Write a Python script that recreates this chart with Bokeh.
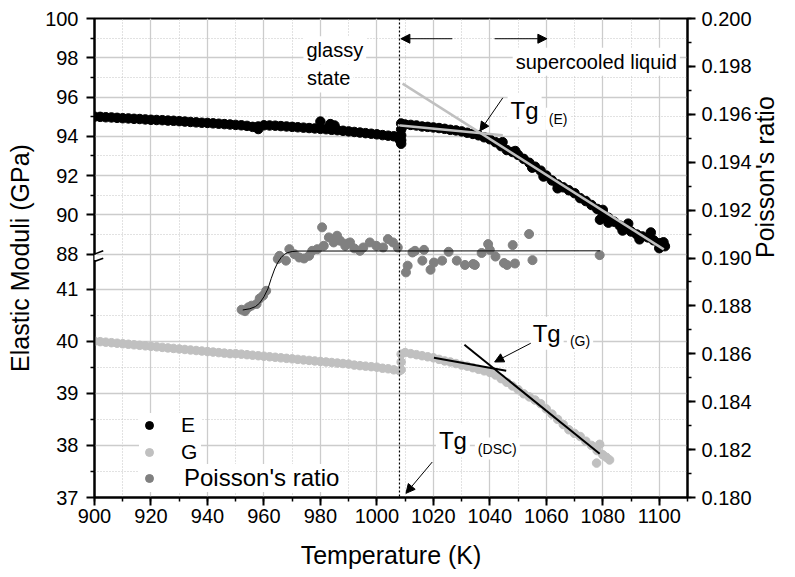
import math
from bokeh.plotting import figure
from bokeh.models import (Range1d, LinearAxis, FixedTicker, SingleIntervalTicker,
                          CustomJSTickFormatter, NumeralTickFormatter, Span, Label,
                          Arrow, NormalHead, Legend, LegendItem)
from bokeh.embed import file_html
from bokeh.resources import INLINE

FONT = "Liberation Sans"

# ---------------- data ----------------
# Young's modulus E (GPa), glassy region
E_T_GLASS = [900, 902, 904, 906, 908, 910, 912, 914, 916, 918, 920, 922, 924, 926, 928, 930,
             932, 934, 936, 938, 940, 942, 944, 946, 948, 950, 952, 954, 956, 958, 960, 962,
             964, 966, 968, 970, 972, 974, 976, 978, 980, 982, 984, 986, 988, 990, 992, 994,
             996, 998, 1000, 1002, 1004, 1006, 1008, 958, 980, 983.5, 985, 1008, 1008.3]
E_V_GLASS = [95.00, 94.99, 94.97, 94.96, 94.94, 94.92, 94.91, 94.89, 94.88, 94.86, 94.84, 94.83,
             94.82, 94.80, 94.79, 94.77, 94.75, 94.73, 94.71, 94.69, 94.68, 94.66, 94.64, 94.62,
             94.60, 94.58, 94.56, 94.53, 94.48, 94.50, 94.56, 94.55, 94.54, 94.52, 94.50, 94.48,
             94.46, 94.44, 94.42, 94.40, 94.38, 94.36, 94.33, 94.31, 94.28, 94.25, 94.22, 94.19,
             94.16, 94.13, 94.10, 94.06, 94.03, 94.00, 93.93, 94.37, 94.75, 94.62, 94.55, 93.85, 93.78]
# E, supercooled liquid region
E_T_SCL = [1008.6, 1008.6, 1008.6, 1008.6, 1008.6, 1010, 1012, 1014, 1016, 1018, 1020, 1022,
           1024, 1026, 1028, 1030, 1032, 1034, 1036, 1038, 1040, 1042, 1044, 1046, 1048, 1050,
           1052, 1054, 1056, 1058, 1060, 1062, 1064, 1066, 1068, 1070, 1072, 1074, 1076, 1078,
           1080, 1082, 1084, 1086, 1088, 1090, 1092, 1094, 1096, 1098, 1100, 1102,
           1079, 1080, 1082, 1087, 1089, 1093, 1097, 1100, 1101.5, 1059, 1064, 1044.5, 1049, 1055]
E_V_SCL = [94.65, 94.35, 94.05, 93.80, 93.62, 94.60, 94.58, 94.55, 94.50, 94.48, 94.45, 94.42,
           94.38, 94.33, 94.30, 94.25, 94.18, 94.12, 94.05, 93.95, 93.85, 93.70, 93.50, 93.30,
           93.20, 93.05, 92.85, 92.65, 92.45, 92.25, 92.00, 91.75, 91.55, 91.40, 91.25, 91.10,
           90.85, 90.70, 90.50, 90.30, 90.05, 89.85, 89.65, 89.45, 89.30, 89.15, 89.00, 88.90,
           88.85, 88.70, 88.55, 88.40,
           89.75, 90.25, 89.60, 89.20, 89.55, 88.75, 89.10, 88.30, 88.60, 91.95, 91.35, 93.70, 93.25, 92.40]

# Shear modulus G (GPa)
G_T_GLASS = [900, 902, 904, 906, 908, 910, 912, 914, 916, 918, 920, 922, 924, 926, 928, 930,
             932, 934, 936, 938, 940, 942, 944, 946, 948, 950, 952, 954, 956, 958, 960, 962,
             964, 966, 968, 970, 972, 974, 976, 978, 980, 982, 984, 986, 988, 990, 992, 994,
             996, 998, 1000, 1002, 1004, 1006, 1008]
G_V_GLASS = [40.00, 39.99, 39.98, 39.97, 39.96, 39.95, 39.94, 39.93, 39.92, 39.91, 39.90, 39.89,
             39.88, 39.87, 39.86, 39.85, 39.84, 39.83, 39.82, 39.81, 39.80, 39.79, 39.78, 39.77,
             39.76, 39.76, 39.75, 39.74, 39.73, 39.72, 39.71, 39.70, 39.69, 39.68, 39.67, 39.66,
             39.65, 39.64, 39.63, 39.62, 39.61, 39.60, 39.59, 39.58, 39.57, 39.56, 39.54, 39.53,
             39.52, 39.51, 39.50, 39.48, 39.47, 39.45, 39.43]
G_T_SCL = [1008.6, 1008.6, 1008.6, 1010, 1012, 1014, 1016, 1018, 1020, 1022, 1024, 1026, 1028,
           1030, 1032, 1034, 1036, 1038, 1040, 1042, 1044, 1046, 1048, 1050, 1052, 1054, 1056,
           1058, 1060, 1062, 1064, 1066, 1068, 1070, 1072, 1074, 1076, 1078, 1078.9, 1077.8,
           1080, 1081.3, 1082.4]
G_V_SCL = [39.45, 39.60, 39.75, 39.78, 39.76, 39.74, 39.72, 39.70, 39.68, 39.65, 39.62, 39.60,
           39.57, 39.54, 39.52, 39.49, 39.46, 39.43, 39.40, 39.35, 39.28, 39.21, 39.14, 39.07,
           38.99, 38.93, 38.87, 38.80, 38.70, 38.60, 38.50, 38.40, 38.30, 38.23, 38.17, 38.08,
           38.00, 37.90, 38.02, 37.66, 37.82, 37.77, 37.72]

# Poisson's ratio
NU_T = [952.1, 953.3, 954.5, 955.6, 957.4, 958.5, 959.7, 960.8, 964.9, 965.5, 967.8, 969.0,
        970.8, 972.5, 974.2, 976.0, 977.1, 978.9, 980.6, 981.2, 983.0, 984.7, 985.9, 987.0,
        988.8, 989.4, 990.5, 992.0, 994.0, 995.2, 997.5, 999.8, 1002.2, 1003.9, 1005.7, 1007.4,
        1010.3, 1010.9, 1012.6, 1013.5, 1016.1, 1016.7, 1019.0, 1020.2, 1023.1, 1025.4, 1028.3,
        1031.2, 1034.1, 1034.7, 1037.1, 1039.4, 1040.0, 1042.0, 1045.0, 1046.1, 1048.1, 1048.9,
        1053.9, 1055.1, 1078.9]
NU_V = [0.18784, 0.18778, 0.18794, 0.18801, 0.18808, 0.18831, 0.18843, 0.18863, 0.18996, 0.19009,
        0.18989, 0.19037, 0.19016, 0.19002, 0.18998, 0.19009, 0.19030, 0.19037, 0.19128, 0.19051,
        0.19086, 0.19065, 0.19093, 0.19072, 0.19051, 0.19060, 0.19065, 0.19040, 0.19030, 0.19044,
        0.19065, 0.19051, 0.19044, 0.19079, 0.19065, 0.19044,
        0.18940, 0.18968, 0.19023, 0.19030, 0.18989, 0.19034, 0.18951, 0.18981, 0.18989, 0.19026,
        0.18989, 0.18971, 0.18975, 0.18971, 0.19021, 0.19058, 0.19034, 0.19006, 0.18979, 0.18971,
        0.19054, 0.18977, 0.19100, 0.18991, 0.19012]
NU_FIT_T = [952.5, 955, 957, 958.5, 960, 961.4, 962.6, 963.8, 964.9, 966.1, 967.2, 968.5, 970, 972, 1079]
NU_FIT_V = [0.18783, 0.18788, 0.18797, 0.18812, 0.18838, 0.18871, 0.18915, 0.18954, 0.18981,
            0.19002, 0.19015, 0.19023, 0.19027, 0.19029, 0.19030]

# tangent lines used to find Tg
E_FIT_STEEP_T = [1009.1, 1101.6]
E_FIT_STEEP_V = [96.68, 88.24]
E_FIT_FLAT_T = [1007.4, 1044.6]
E_FIT_FLAT_V = [94.56, 94.05]
G_FIT_FLAT_T = [1020.2, 1045.8]
G_FIT_FLAT_V = [39.68, 39.43]
G_FIT_STEEP_T = [1031.0, 1078.9]
G_FIT_STEEP_V = [39.93, 37.84]

TG_DSC = 1008

X_TICK_STEP = 20
E_TICKS = [88, 90, 92, 94, 96, 98, 100]
E_MINOR = [89, 91, 93, 95, 97, 99]
G_TICKS = [37, 38, 39, 40, 41]
G_MINOR = [37.5, 38.5, 39.5, 40.5]

# ---------------- axis ranges (broken left axis) ----------------
X_LO, X_HI = 900, 1110
E_LO, E_HI = 75.6, 100.0
G_LO, G_HI = 37.0, 46.19
NU_LO, NU_HI = 0.180, 0.200


def g_to_e(g):
    return E_LO + (g - G_LO) * (E_HI - E_LO) / (G_HI - G_LO)


p = figure(width=795, height=577, x_range=Range1d(X_LO, X_HI), y_range=Range1d(E_LO, E_HI),
           output_backend="svg", toolbar_location=None,
           min_border_left=94, min_border_right=100, min_border_top=18, min_border_bottom=80,
           background_fill_color="white", border_fill_color="white")
p.extra_y_ranges = {"G": Range1d(G_LO, G_HI), "nu": Range1d(NU_LO, NU_HI)}
p.outline_line_color = "black"
p.outline_line_width = 2
p.outline_line_alpha = 1

left_ticker = FixedTicker(ticks=E_TICKS + [g_to_e(g) for g in G_TICKS],
                          minor_ticks=E_MINOR + [g_to_e(g) for g in G_MINOR])
x_ticker = SingleIntervalTicker(interval=X_TICK_STEP, num_minor_ticks=2)

p.yaxis.ticker = left_ticker
p.yaxis.formatter = CustomJSTickFormatter(
    args=dict(e0=E_LO, es=E_HI - E_LO, g0=G_LO, gs=G_HI - G_LO),
    code="""
    if (tick >= 87.5) { return tick.toFixed(0); }
    return Math.round(g0 + (tick - e0) * gs / es).toFixed(0);
    """)
p.yaxis.axis_label = "Elastic Moduli (GPa)"
p.xaxis.ticker = x_ticker
p.xaxis.axis_label = "Temperature (K)"

right = LinearAxis(y_range_name="nu",
                   ticker=SingleIntervalTicker(interval=0.002, num_minor_ticks=2),
                   formatter=NumeralTickFormatter(format="0.000"),
                   axis_label="Poisson's ratio")
p.add_layout(right, "right")
if "axis_label_orientation" in right.properties():
    right.axis_label_orientation = math.pi / 2

for ax in [p.xaxis[0], p.yaxis[0], right]:
    ax.axis_line_width = 2
    ax.axis_line_color = "black"
    ax.major_tick_line_width = 2
    ax.minor_tick_line_width = 1.5
    ax.major_tick_in = 0
    ax.major_tick_out = 8
    ax.minor_tick_in = 0
    ax.minor_tick_out = 4
    ax.major_label_text_font = FONT
    ax.major_label_text_font_size = "20px"
    ax.major_label_text_color = "black"
    ax.axis_label_text_font = FONT
    ax.axis_label_text_font_size = "25px"
    ax.axis_label_text_font_style = "normal"
    ax.axis_label_text_color = "black"
p.xaxis.major_label_standoff = 3
p.xaxis.axis_label_standoff = 15
p.yaxis.major_label_standoff = 8
p.yaxis.axis_label_standoff = 8
right.major_label_standoff = 6
right.axis_label_standoff = 10

p.xgrid.ticker = x_ticker
p.ygrid.ticker = left_ticker
for g in [p.xgrid[0], p.ygrid[0]]:
    g.grid_line_color = "#cccccc"
    g.grid_line_width = 1.3
    g.minor_grid_line_color = "#c4c4c4"
    g.minor_grid_line_width = 1
    g.minor_grid_line_dash = "1 2"

# ---------------- glyphs ----------------
g_r = p.scatter(G_T_GLASS + G_T_SCL, G_V_GLASS + G_V_SCL, y_range_name="G",
                size=8.5, color="#c0c0c0")
e_r = p.scatter(E_T_GLASS + E_T_SCL, E_V_GLASS + E_V_SCL, size=9.5, color="black")
nu_r = p.scatter(NU_T, NU_V, y_range_name="nu", size=9, color="#808080")
p.line(NU_FIT_T, NU_FIT_V, y_range_name="nu", line_color="black", line_width=1)
p.line(E_FIT_STEEP_T, E_FIT_STEEP_V, line_color="#c0c0c0", line_width=2.5)
p.line(E_FIT_FLAT_T, E_FIT_FLAT_V, line_color="#c0c0c0", line_width=2.5)
p.line(G_FIT_FLAT_T, G_FIT_FLAT_V, y_range_name="G", line_color="black", line_width=2)
p.line(G_FIT_STEEP_T, G_FIT_STEEP_V, y_range_name="G", line_color="black", line_width=2)

p.add_layout(Span(location=TG_DSC, dimension="height", line_color="black",
                  line_dash="2 2", line_width=1.2))

# ---------------- annotations ----------------
def lab(x, y, text, size, rng="default"):
    p.add_layout(Label(x=x, y=y, text=text, y_range_name=rng, text_font=FONT,
                       text_font_size=size, text_color="black", text_baseline="alphabetic",
                       background_fill_color="white", background_fill_alpha=1, padding=3))

lab(974.0, 98.38, "glassy", "20px")
lab(974.2, 96.95, "state", "20px")
lab(1048.1, 97.80, "supercooled liquid", "20px")
lab(1046.3, 95.33, "Tg", "24px")
lab(1059.8, 94.89, "(E)", "14px")
lab(1054.1, 40.15, "Tg", "24px", "G")
lab(1067.3, 40.00, "(G)", "14px", "G")
lab(1020.9, 38.09, "Tg", "24px", "G")
lab(1034.7, 37.94, "(DSC)", "14px", "G")


def arrow(x0, y0, x1, y1, rng="default"):
    p.add_layout(Arrow(x_start=x0, y_start=y0, x_end=x1, y_end=y1, y_range_name=rng,
                       line_color="black", line_width=1,
                       end=NormalHead(size=9, fill_color="black", line_color="black", line_width=1)))

arrow(1026.7, 98.97, 1008.5, 98.97)
arrow(1041.7, 98.97, 1060.2, 98.97)
arrow(1044.6, 95.96, 1036.5, 94.27)
arrow(1054.5, 39.96, 1041.7, 39.60, "G")
arrow(1019.6, 37.68, 1010.3, 37.08, "G")

# axis break marks on the left axis
p.add_layout(Arrow(x_start=900, y_start=87.97, x_end=900, y_end=87.70, start=None, end=None,
                   line_color="white", line_width=5))
for yc in [88.0, 87.62]:
    p.add_layout(Arrow(x_start=896.9, y_start=yc - 0.17, x_end=903.1, y_end=yc + 0.17,
                       start=None, end=None, line_color="black", line_width=1.6))

# ---------------- legends ----------------
def style_legend(leg, fs, gh, standoff):
    leg.border_line_color = None
    leg.background_fill_color = "white"
    leg.background_fill_alpha = 1
    leg.padding = 4
    leg.spacing = 3
    leg.margin = 0
    leg.glyph_width = 20
    leg.glyph_height = gh
    leg.label_standoff = standoff
    leg.label_text_font = FONT
    leg.label_text_font_size = fs
    leg.label_text_color = "black"

leg1 = Legend(items=[LegendItem(label="E", renderers=[e_r]),
                     LegendItem(label="G", renderers=[g_r])], location=(45, 33))
style_legend(leg1, "21px", 24, 22)
leg2 = Legend(items=[LegendItem(label="Poisson's ratio", renderers=[nu_r])], location=(45, 5))
style_legend(leg2, "24px", 28, 25)
p.add_layout(leg1)
p.add_layout(leg2)

open("out.html", "w").write(file_html(p, INLINE))
